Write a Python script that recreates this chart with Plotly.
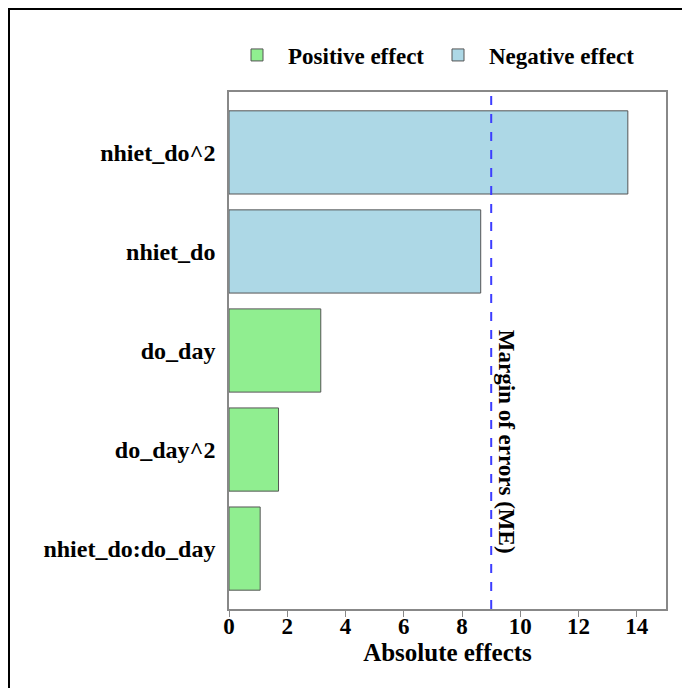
import plotly.graph_objects as go

categories = ["nhiet_do^2", "nhiet_do", "do_day", "do_day^2", "nhiet_do:do_day"]
effects = [13.69, 8.64, 3.15, 1.70, 1.07]
signs = ["Negative effect", "Negative effect", "Positive effect", "Positive effect", "Positive effect"]
margin_of_error = 9.0
x_ticks = [0, 2, 4, 6, 8, 10, 12, 14]

colors = {"Positive effect": "#90EE90", "Negative effect": "#ADD8E6"}
legend_ids = {"Positive effect": "legend", "Negative effect": "legend2"}
FONT = "Liberation Serif"

fig = go.Figure()
for grp in ["Positive effect", "Negative effect"]:
    xs = [v for v, s in zip(effects, signs) if s == grp]
    ys = [c for c, s in zip(categories, signs) if s == grp]
    fig.add_trace(go.Bar(
        x=xs, y=ys, orientation="h", name=grp, legend=legend_ids[grp],
        marker=dict(color=colors[grp], line=dict(color="#555555", width=1)),
        width=0.84,
    ))

fig.add_shape(type="line", xref="x", yref="paper", x0=margin_of_error, x1=margin_of_error,
              y0=0, y1=1, line=dict(color="#3d3dff", width=2, dash="dash"))
fig.add_annotation(x=margin_of_error, xref="x", xshift=16, y=(609 - 442) / 517, yref="paper",
                   yanchor="middle", xanchor="center",
                   text="<b>Margin of errors (ME)</b>", textangle=90, showarrow=False,
                   font=dict(family=FONT, size=23, color="black"))

# outer frame
fig.add_shape(type="rect", xref="paper", yref="paper",
              x0=(9 - 229) / 437, x1=(720 - 229) / 437,
              y0=(609 - 720) / 517, y1=(609 - 9) / 517,
              line=dict(color="black", width=2))

legend_common = dict(orientation="h", y=(609 - 55) / 517, yanchor="middle",
                     font=dict(family=FONT, size=23, color="black", weight="bold"),
                     itemwidth=52, bgcolor="rgba(0,0,0,0)", visible=True)

fig.update_layout(
    width=682, height=688,
    margin=dict(l=229, r=16, t=92, b=79),
    plot_bgcolor="white", paper_bgcolor="white",
    barmode="overlay",
    showlegend=True,
    font=dict(family=FONT, size=20, color="black"),
    legend=dict(x=0.0, xanchor="left", indentation=-3, **legend_common),
    legend2=dict(x=(427 - 229) / 437, xanchor="left", **legend_common),
    xaxis=dict(range=[0, 15], tickvals=x_ticks, ticks="outside", ticklen=6,
               tickcolor="#888888", showline=True, linecolor="#888888", linewidth=1.5,
               mirror=True, showgrid=False, zeroline=False, ticklabelstandoff=-10,
               tickfont=dict(family=FONT, size=23, color="black", weight="bold"),
               title=dict(text="<b>Absolute effects</b>", standoff=4,
                          font=dict(family=FONT, size=25, color="black"))),
    yaxis=dict(categoryorder="array", categoryarray=categories[::-1], range=[-0.61, 4.61],
               showline=True, linecolor="#888888", linewidth=1.5, mirror=True,
               showgrid=False, ticks="", ticklabelstandoff=7,
               tickfont=dict(family=FONT, size=24, color="black", weight="bold")),
)

fig.write_html("out.html", config={"displayModeBar": False},
               post_script="document.body.style.margin='0';document.body.style.overflow='hidden';")
